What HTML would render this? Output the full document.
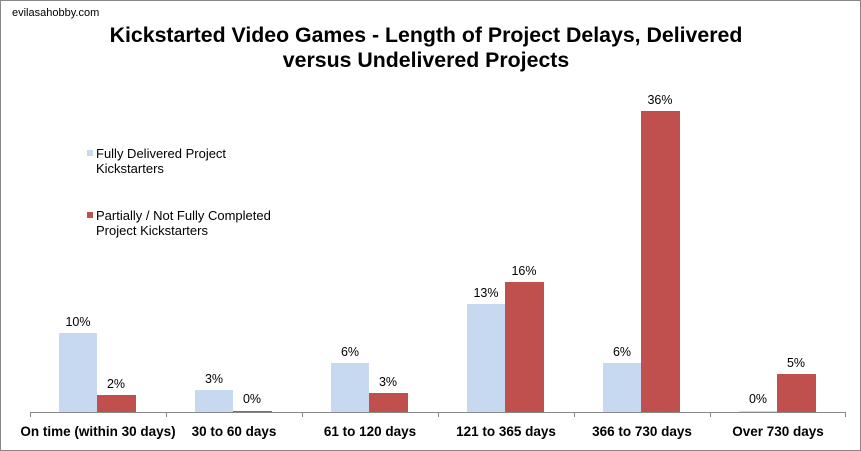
<!DOCTYPE html>
<html><head><style>
html,body{margin:0;padding:0;background:#fff}
svg{display:block}
text{font-family:"Liberation Sans",Arial,sans-serif}
</style></head><body>
<svg width="861" height="451" xmlns="http://www.w3.org/2000/svg">
<rect x="0.5" y="0.5" width="860" height="450" fill="#fff" stroke="#888" stroke-width="1"/>
<text x="12" y="16" font-size="11" fill="#000">evilasahobby.com</text>
<text x="426" y="42" font-size="21.3" font-weight="bold" text-anchor="middle">Kickstarted Video Games - Length of Project Delays, Delivered</text>
<text x="426" y="67" font-size="21.3" font-weight="bold" text-anchor="middle">versus Undelivered Projects</text>
<rect x="87" y="150" width="6" height="6" fill="#c6d9f1"/>
<text x="96" y="158" font-size="13">Fully Delivered Project</text>
<text x="96" y="173" font-size="13">Kickstarters</text>
<rect x="87" y="212" width="6" height="6" fill="#c0504d"/>
<text x="96" y="220" font-size="13">Partially / Not Fully Completed</text>
<text x="96" y="235" font-size="13">Project Kickstarters</text>
<g font-size="12.5" text-anchor="middle">
<rect x="59" y="333" width="38" height="79" fill="#c6d9f1"/><text x="78" y="326">10%</text>
<rect x="97" y="395" width="39" height="17" fill="#c0504d"/><text x="116" y="388">2%</text>
<rect x="195" y="390" width="38" height="22" fill="#c6d9f1"/><text x="214" y="383">3%</text>
<rect x="233" y="411" width="39" height="1" fill="#c0504d"/><text x="252" y="403">0%</text>
<rect x="331" y="363" width="38" height="49" fill="#c6d9f1"/><text x="350" y="356">6%</text>
<rect x="369" y="393" width="39" height="19" fill="#c0504d"/><text x="388" y="386">3%</text>
<rect x="467" y="304" width="38" height="108" fill="#c6d9f1"/><text x="486" y="297">13%</text>
<rect x="505" y="282" width="39" height="130" fill="#c0504d"/><text x="524" y="275">16%</text>
<rect x="603" y="363" width="38" height="49" fill="#c6d9f1"/><text x="622" y="356">6%</text>
<rect x="641" y="111" width="39" height="301" fill="#c0504d"/><text x="660" y="104">36%</text>
<rect x="739" y="411" width="38" height="1" fill="#c6d9f1"/><text x="758" y="403">0%</text>
<rect x="777" y="374" width="39" height="38" fill="#c0504d"/><text x="796" y="367">5%</text>
</g>
<g stroke="#888" stroke-width="1">
<line x1="30" y1="412.5" x2="846" y2="412.5"/>
<line x1="30.5" y1="412" x2="30.5" y2="417"/><line x1="166.5" y1="412" x2="166.5" y2="417"/>
<line x1="302.5" y1="412" x2="302.5" y2="417"/><line x1="438.5" y1="412" x2="438.5" y2="417"/>
<line x1="574.5" y1="412" x2="574.5" y2="417"/><line x1="710.5" y1="412" x2="710.5" y2="417"/>
<line x1="845.5" y1="412" x2="845.5" y2="417"/>
</g>
<g font-size="13.5" font-weight="bold" text-anchor="middle">
<text x="98" y="436">On time (within 30 days)</text>
<text x="234" y="436">30 to 60 days</text>
<text x="370" y="436">61 to 120 days</text>
<text x="506" y="436">121 to 365 days</text>
<text x="642" y="436">366 to 730 days</text>
<text x="778" y="436">Over 730 days</text>
</g>
</svg>
</body></html>
